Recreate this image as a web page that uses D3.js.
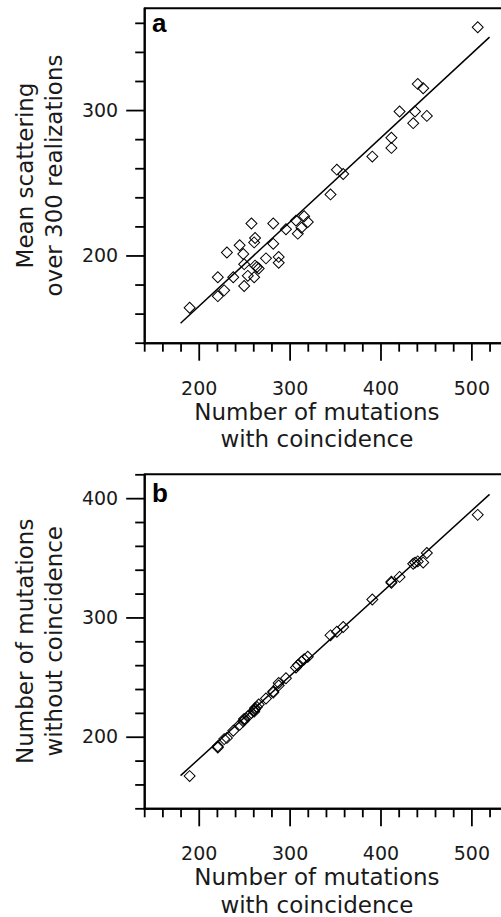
<!DOCTYPE html>
<html>
<head>
<meta charset="utf-8">
<script src="https://cdn.jsdelivr.net/npm/d3@7"></script>
<style>
  body { margin: 0; background: #fff; }
  svg { display: block; }
  .tick text { font-family: "DejaVu Sans", Verdana, sans-serif; font-size: 19px; fill: #1a1a1a; }
  .axis-title { font-family: "DejaVu Sans", Verdana, sans-serif; font-size: 23px; fill: #1a1a1a; }
  .panel-label { font-family: "Liberation Sans", Arial, sans-serif; font-size: 26px; font-weight: bold; fill: #000; }
</style>
</head>
<body>
<div class="chart"></div>
<script>
// number of mutations with coincidence (shared x of both panels)
var withCoinc = [190, 221, 221, 228, 231, 238, 245, 249, 250, 250, 254, 258, 261, 262, 262, 264, 266, 261,
                 274, 282, 282, 288, 288, 296, 307, 309, 313, 316, 320, 345, 352, 359, 391, 412, 412, 436,
                 438, 421, 451, 441, 447, 507];
// panel a: mean scattering over 300 realizations
var meanScatter = [164, 185, 172, 176, 202, 185, 207, 201, 194, 179, 186, 222, 209, 212, 193, 192, 191, 185,
                   198, 222, 208, 199, 195, 218, 224, 215, 219, 227, 223, 242, 259, 256, 268, 274, 281, 291,
                   299, 299, 296, 318, 315, 357];
// panel b: number of mutations without coincidence
var withoutCoinc = [167, 191, 192, 198, 199, 205, 210, 213, 214, 215, 217, 220, 222, 223, 224, 225, 227, 221,
                    232, 238, 237, 243, 245, 249, 258, 260, 263, 265, 267, 285, 288, 292, 315, 329, 330, 345,
                    346, 334, 354, 347, 346, 386];

// regression lines (data units)
var fitA = [[180, 153.4], [520, 350.2]];
var fitB = [[180, 167.4], [520, 403.2]];

// ticks
var xMajorTicks = [200, 300, 400, 500];
var xMinorTicks = [140, 160, 180, 220, 240, 260, 280, 320, 340, 360, 380, 420, 440, 460, 480, 520, 540];
var yMajorTicksA = [200, 300];
var yMinorTicksA = [140, 160, 180, 220, 240, 260, 280, 320, 340, 360];
var yMajorTicksB = [200, 300, 400];
var yMinorTicksB = [140, 160, 180, 220, 240, 260, 280, 320, 340, 360, 380, 420];

var width = 501, height = 917;

var svg = d3.select(".chart").append("svg")
    .attr("width", width)
    .attr("height", height);

var x = d3.scaleLinear().domain([140, 560]).range([144.2, 525.9]);

function styleAxis(sel) {
    sel.select(".domain").attr("stroke", "#000").attr("stroke-width", 2);
    sel.selectAll(".tick line").attr("stroke", "#000").attr("stroke-width", 1.8);
}

function drawPanel(p) {
    var g = svg.append("g");
    var y = d3.scaleLinear().domain(p.yDomain).range([p.bottom, p.top]);

    // top frame line
    g.append("line")
        .attr("x1", x(140)).attr("x2", width + 10)
        .attr("y1", y(p.yDomain[1])).attr("y2", y(p.yDomain[1]))
        .attr("stroke", "#000").attr("stroke-width", 2);

    // x axis: minor then major ticks
    g.append("g")
        .attr("transform", "translate(0," + p.bottom + ")")
        .call(d3.axisBottom(x).tickValues(xMinorTicks).tickSize(9).tickSizeOuter(0).tickFormat(""))
        .call(styleAxis);
    var xa = g.append("g")
        .attr("transform", "translate(0," + p.bottom + ")")
        .call(d3.axisBottom(x).tickValues(xMajorTicks).tickSize(18).tickSizeOuter(0))
        .call(styleAxis);
    xa.selectAll(".tick text").attr("y", 52).attr("dy", null);

    // y axis
    g.append("g")
        .attr("transform", "translate(" + x(140) + ",0)")
        .call(d3.axisLeft(y).tickValues(p.yMinor).tickSize(9).tickSizeOuter(0).tickFormat(""))
        .call(styleAxis);
    g.append("g")
        .attr("transform", "translate(" + x(140) + ",0)")
        .call(d3.axisLeft(y).tickValues(p.yMajor).tickSize(18).tickSizeOuter(0).tickPadding(8))
        .call(styleAxis);
    g.selectAll(".domain").attr("stroke-linecap", "square");

    // fit line
    var line = d3.line()
        .x(function(d) { return x(d[0]); })
        .y(function(d) { return y(d[1]); });
    g.append("path")
        .datum(p.fit)
        .attr("d", line)
        .attr("fill", "none")
        .attr("stroke", "#000")
        .attr("stroke-width", 1.5);

    // diamonds
    var sym = d3.symbol().type(d3.symbolSquare).size(60);
    g.append("g")
        .selectAll("path")
        .data(d3.zip(withCoinc, p.values))
        .enter()
        .append("path")
            .attr("d", sym)
            .attr("transform", function(d) { return "translate(" + x(d[0]) + "," + y(d[1]) + ") rotate(45)"; })
            .attr("fill", "none")
            .attr("stroke", "#000")
            .attr("stroke-width", 1);

    // panel letter
    g.append("text")
        .attr("class", "panel-label")
        .attr("x", 152)
        .attr("y", p.top + p.labelDy)
        .text(p.label);

    // x title
    var xt = g.append("text")
        .attr("class", "axis-title")
        .attr("text-anchor", "middle")
        .attr("transform", "translate(" + x(330) + "," + (p.bottom + 77) + ")");
    xt.append("tspan").attr("x", 0).attr("y", 0).text("Number of mutations");
    xt.append("tspan").attr("x", 0).attr("y", 27.5).text("with coincidence");

    // y title
    var yt = g.append("text")
        .attr("class", "axis-title")
        .attr("text-anchor", "middle")
        .attr("transform", "translate(33," + ((p.top + p.bottom) / 2) + ") rotate(-90)");
    yt.append("tspan").attr("x", 0).attr("y", 0).text(p.yTitle[0]);
    yt.append("tspan").attr("x", 0).attr("y", 28.5).text(p.yTitle[1]);
}

drawPanel({
    top: 8.3, bottom: 342.7,
    yDomain: [140, 370],
    yMajor: yMajorTicksA, yMinor: yMinorTicksA,
    values: meanScatter, fit: fitA,
    label: "a", labelDy: 24,
    yTitle: ["Mean scattering", "over 300 realizations"]
});

drawPanel({
    top: 474.3, bottom: 808.3,
    yDomain: [140, 420],
    yMajor: yMajorTicksB, yMinor: yMinorTicksB,
    values: withoutCoinc, fit: fitB,
    label: "b", labelDy: 28,
    yTitle: ["Number of mutations", "without coincidence"]
});
</script>
</body>
</html>
